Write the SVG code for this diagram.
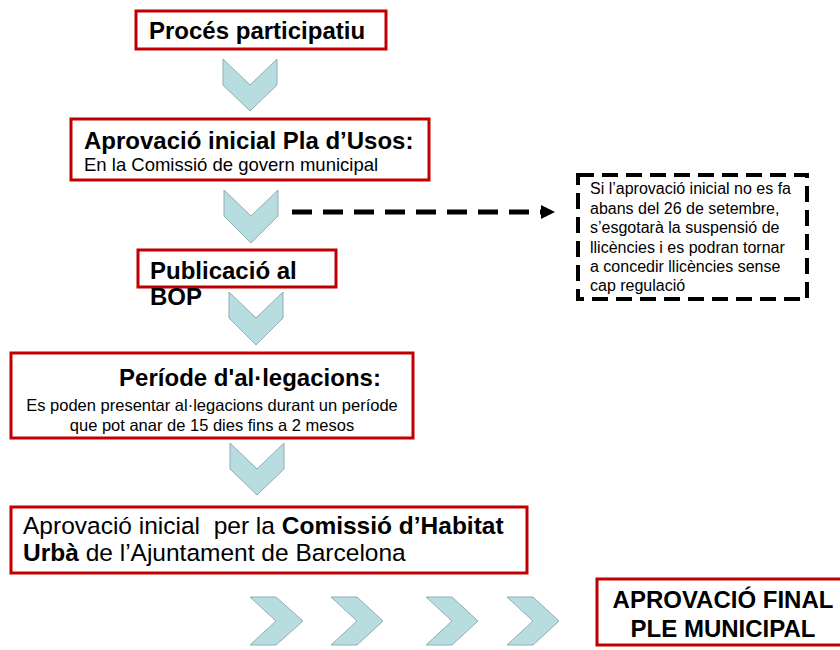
<svg xmlns="http://www.w3.org/2000/svg" width="840" height="650" viewBox="0 0 840 650">
<defs>
<style>
.box{fill:#fff;stroke:#c00000;stroke-width:3}
.chev{fill:#b7dde0;stroke:#93adaf;stroke-width:1}
.t{font-family:"Liberation Sans",Arial,sans-serif;fill:#000}
.b{font-weight:bold;font-size:24px}
.s{font-size:18.5px}
.m{font-size:16.5px}
.n{font-size:16px}
.dbox{fill:#fff;stroke:#000;stroke-width:4;stroke-dasharray:16,8}
.dline{fill:none;stroke:#000;stroke-width:5;stroke-dasharray:20,11}
</style>
<marker id="ah" markerWidth="14" markerHeight="14" refX="2" refY="7" orient="auto" markerUnits="userSpaceOnUse">
<path d="M0,0 L14,7 L0,14 Z" fill="#000"/>
</marker>
</defs>
<rect width="840" height="650" fill="#fff"/>
<g id="n1">
<rect class="box" x="136" y="11" width="250" height="38"/>
<text class="t b" x="149" y="39">Procés participatiu</text>
</g>
<g id="c1"><polygon class="chev" points="223,59 250,85 277,59 277,85 250,111 223,85"/></g>
<g id="n2">
<rect class="box" x="71" y="119" width="358" height="61"/>
<text class="t b" x="84" y="149">Aprovació inicial Pla d’Usos:</text>
<text class="t s" x="84" y="171">En la Comissió de govern municipal</text>
</g>
<g id="c2"><polygon class="chev" points="224,190 251,216 278,190 278,216 251,243 224,216"/></g>
<g id="n3">
<rect class="box" x="138" y="250" width="198" height="37"/>
<text class="t b" x="150" y="279">Publicació al</text>
<text class="t b" x="150" y="305">BOP</text>
</g>
<g id="c3"><polygon class="chev" points="229,292 256,318 283,292 283,318 256,345 229,318"/></g>
<g id="n4">
<rect class="box" x="11" y="353" width="402" height="85"/>
<text class="t b" x="250" y="386" text-anchor="middle">Període d'al·legacions:</text>
<text class="t m" x="212" y="411" text-anchor="middle">Es poden presentar al·legacions durant un període</text>
<text class="t m" x="212" y="431" text-anchor="middle">que pot anar de 15 dies fins a 2 mesos</text>
</g>
<g id="c4"><polygon class="chev" points="230,443 257,469 284,443 284,469 257,495 230,469"/></g>
<g id="n5">
<rect class="box" x="11" y="507" width="516" height="66"/>
<text class="t" font-size="24.5" x="23" y="534" xml:space="preserve">Aprovació inicial  per la <tspan font-weight="bold">Comissió d’Habitat</tspan></text>
<text class="t" font-size="24.5" x="23" y="561"><tspan font-weight="bold">Urbà</tspan> de l’Ajuntament de Barcelona</text>
</g>
<g id="h1"><polygon class="chev" points="250,597 276,597 303,621 276,645 250,645 276,621"/></g>
<g id="h2"><polygon class="chev" points="331,597 357,597 383,621 357,645 331,645 357,621"/></g>
<g id="h3"><polygon class="chev" points="426,597 452,597 478,621 452,645 426,645 452,621"/></g>
<g id="h4"><polygon class="chev" points="507,597 533,597 559,621 533,645 507,645 533,621"/></g>
<g id="n6">
<rect class="box" x="597" y="579" width="252" height="66"/>
<text class="t b" x="723" y="608" text-anchor="middle">APROVACIÓ FINAL</text>
<text class="t b" x="723" y="637" text-anchor="middle">PLE MUNICIPAL</text>
</g>
<g id="note">
<rect class="dbox" x="578" y="175" width="229" height="124"/>
<text class="t n" x="590" y="194">Si l’aprovació inicial no es fa</text>
<text class="t n" x="590" y="213.5">abans del 26 de setembre,</text>
<text class="t n" x="590" y="233">s’esgotarà la suspensió de</text>
<text class="t n" x="590" y="252.5">llicències i es podran tornar</text>
<text class="t n" x="590" y="272">a concedir llicències sense</text>
<text class="t n" x="590" y="291">cap regulació</text>
</g>
<g id="connectors">
<line class="dline" x1="292" y1="212" x2="543" y2="212" marker-end="url(#ah)"/>
</g>
</svg>
